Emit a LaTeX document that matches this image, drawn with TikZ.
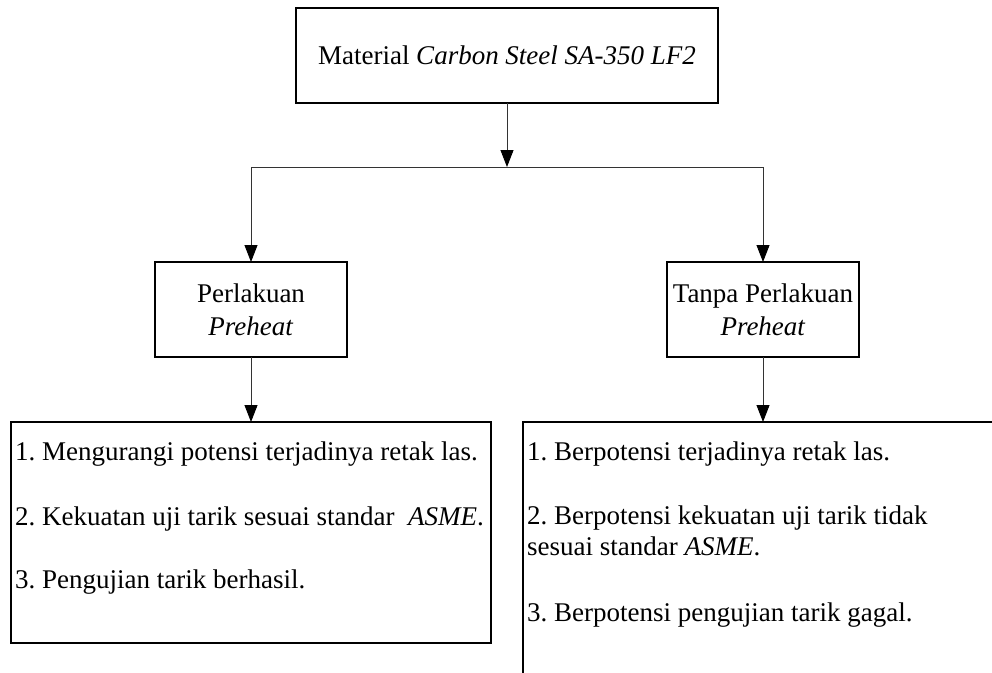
\documentclass[tikz,border=0pt]{standalone}
\usepackage{fontspec}
\setmainfont{Liberation Serif}
\usetikzlibrary{arrows.meta}
\frenchspacing
\begin{document}
\begin{tikzpicture}[x=1pt,y=-1pt,
  box/.style={draw=black,line width=1.1pt,inner sep=0pt,outer sep=0pt},
  conn/.style={draw=black!80,line width=0.9pt},
  arr/.style={conn,-{Triangle[length=17pt,width=13pt,fill=black,color=black]}},
  txt/.style={inner sep=0pt,anchor=base west,font=\fontsize{27}{33}\selectfont}]
\useasboundingbox (0,0) rectangle (992,672);
\clip (0,0) rectangle (992,672);
\fill[white] (0,0) rectangle (992,672);
% boxes
\node[box,minimum width=422pt,minimum height=95pt,font=\fontsize{27}{33}\selectfont] (top) at (507,55.5) {Material \textit{Carbon Steel SA-350 LF2}};
\node[box,minimum width=192pt,minimum height=95pt,align=center,font=\fontsize{27}{33}\selectfont] (pL) at (251,309.5) {Perlakuan\\\textit{Preheat}};
\node[box,minimum width=192pt,minimum height=95pt,align=center,font=\fontsize{27}{33}\selectfont] (pR) at (763,309.5) {Tanpa Perlakuan\\\textit{Preheat}};
\node[box,minimum width=480pt,minimum height=221pt] (bL) at (251,532.5) {};
\node[box,minimum width=500pt,minimum height=280pt,anchor=north west] (bR) at (523,422) {};
% texts in result boxes
\node[txt] (l1) at (15,460) {1. Mengurangi potensi terjadinya retak las.};
\node[txt] (l2) at (15,525) {2. Kekuatan uji tarik sesuai standar \ \textit{ASME}.};
\node[txt] (l3) at (15,588) {3. Pengujian tarik berhasil.};
\node[txt] (r1) at (527,460) {1. Berpotensi terjadinya retak las.};
\node[txt] (r2) at (527,524) {2. Berpotensi kekuatan uji tarik tidak};
\node[txt] (r2b) at (527,555) {sesuai standar \textit{ASME}.};
\node[txt] (r3) at (527,621) {3. Berpotensi pengujian tarik gagal.};
% connectors
\coordinate (j) at (507,167);
\coordinate (jL) at (251,167);
\coordinate (jR) at (763,167);
\draw[arr] (top.south) -- (j);
\draw[conn] (jL) -- (jR);
\draw[arr] (jL) -- (pL.north);
\draw[arr] (jR) -- (pR.north);
\draw[arr] (pL.south) -- (bL.north);
\draw[arr] (pR.south) -- (pR.south |- bR.north);
\end{tikzpicture}
\end{document}
